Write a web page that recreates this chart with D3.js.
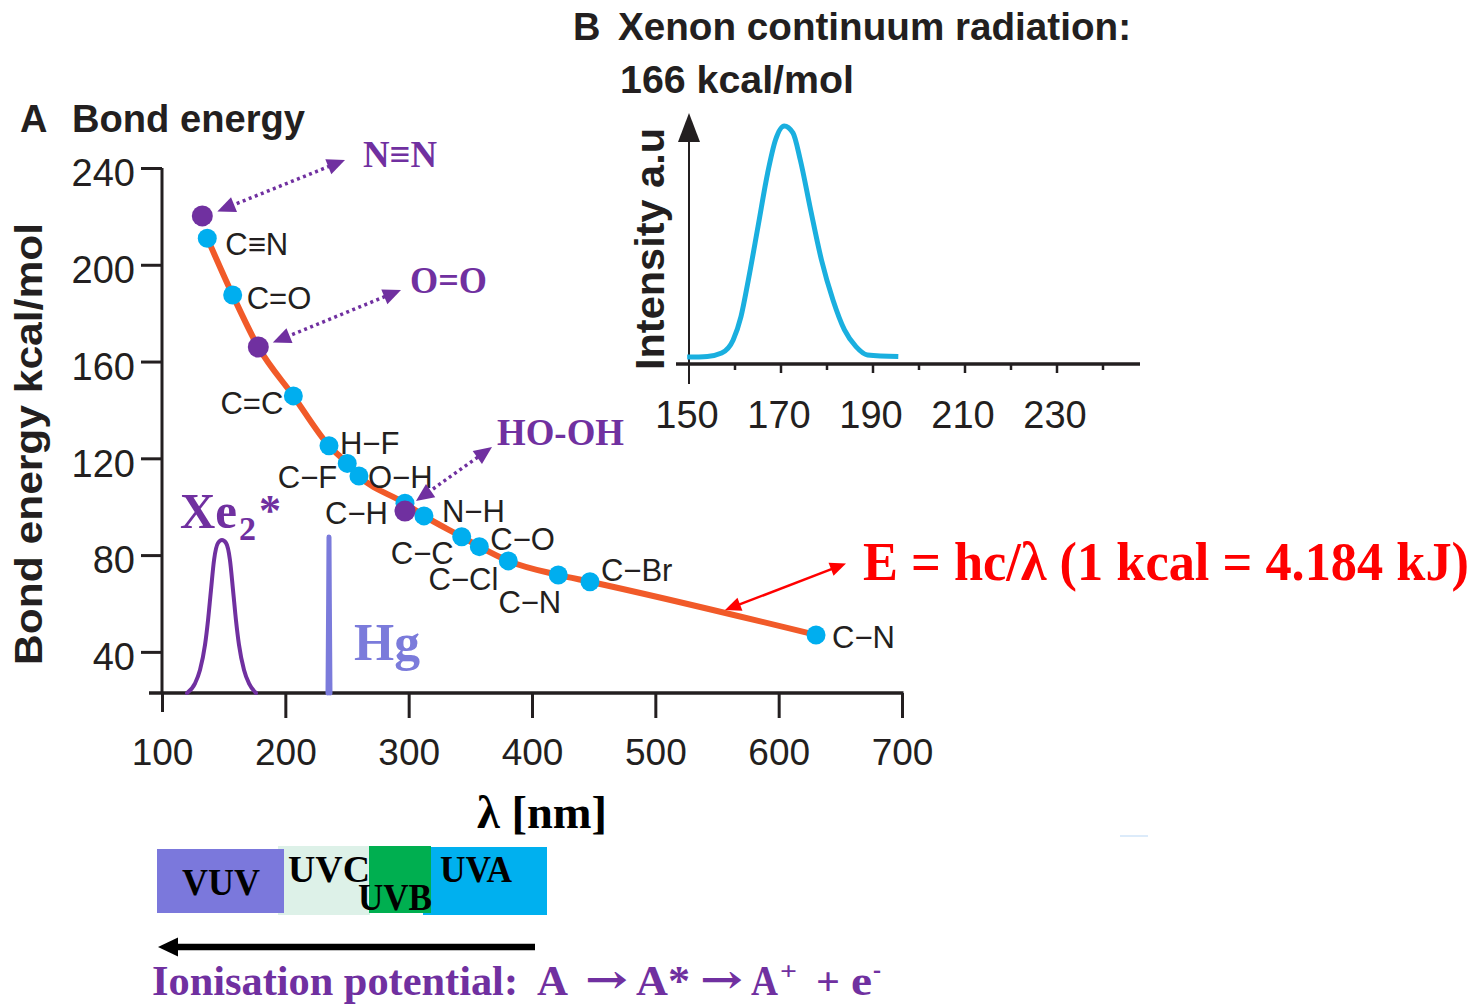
<!DOCTYPE html>
<html><head><meta charset="utf-8">
<script src="https://cdn.jsdelivr.net/npm/d3@7"></script>
<style>body{margin:0;background:#fff}svg{display:block}</style>
</head><body>
<svg id="c" width="1482" height="1004"></svg>
<script>
// ---------------- DATA ----------------
const bondLabels = ["C≡N","C=O","C=C","H−F","C−F","O−H","C−H","N−H","C−C","C−O","C−Cl","C−N","C−Br","C−N"];
const bondNm     = [136.7,157.3,206.5,235.4,250.2,259.7,297,312.4,343,357.3,380.8,421.3,447,630.3];
const bondE      = [211,187.5,145.8,125.2,117.9,112.7,101.4,96.2,87.6,83.5,77.6,71.8,69,47];

const moleculeLabels = ["N≡N","O=O","HO-OH"];
const moleculeNm     = [132.7,178.1,297];
const moleculeE      = [220.2,166,98.2];

// orange E = hc/λ line as drawn through the marks
const curveNm = [136.7,157.3,178.1,206.5,235.4,250.2,259.7,297,312.4,343,357.3,380.8,421.3,447,630.3];
const curveE  = [211,187.5,166,145.8,125.2,117.9,112.7,101.4,96.2,87.6,83.5,77.6,71.8,69,47];

// Xe2* excimer emission drawn in panel A
const xeLampNm = [120.3,126.8,130.8,134.9,137.3,139.7,142.2,145.4,148.6,151.9,155.1,157.6,160,162.4,166.5,170.5,176.2];
const xeLampE  = [23,27,32.5,43,53,65.5,78,85,86.2,85,78,65.5,53,43,32.5,27,23];
// Hg line
const hgLampNm = [234.6,235.1,235.4,235.7,236.2];
const hgLampE  = [23,60,87.5,60,23];

const xTicks = [100,200,300,400,500,600,700];
const yTicks = [40,80,120,160,200,240];

// Panel B: xenon continuum
const xenonNm        = [149.6,154,157.1,159.6,161.3,162.9,165,167.1,168.8,170.7,172.6,174.2,176.3,178.8,181.3,183.8,186.3,188.8,195.5];
const xenonIntensity = [2.9,3.2,4.6,10.1,19.9,35.3,57.7,80.3,94.1,100,97.1,85.7,66.1,43.7,26.9,14.3,7.3,3.8,3.1];
const insetTicks      = [150,170,190,210,230];
const insetMinorTicks = [160,180,200,220,240];

// UV bands (wavelength edges, nm)
const bandNames = ["VUV","UVC","UVB","UVA"];
const bandStart = [100,200,280,315];
const bandEnd   = [200,280,315,400];

// ---------------- LAYOUT / STYLE ----------------
const SANS = "'Liberation Sans', Arial, Helvetica, sans-serif";
const SERIF = "'Liberation Serif', 'Times New Roman', serif";
const INK = "#231F20";
const PURPLE = "#7030A0";
const BLUE = "#00AEEF";
const ORANGE = "#F15A29";
const HG = "#7B7BDB";

const svg = d3.select("#c");
svg.append("rect").attr("width",1482).attr("height",1004).attr("fill","#fff");

const x = d3.scaleLinear().domain([100,700]).range([162,902]);
const y = d3.scaleLinear().domain([23,240]).range([693,168]);

// panel titles
svg.append("text").attr("x",20).attr("y",132).attr("font-family",SANS).attr("font-weight","bold")
  .attr("font-size",38).attr("fill",INK).text("A");
svg.append("text").attr("x",72).attr("y",132).attr("font-family",SANS).attr("font-weight","bold")
  .attr("font-size",38).attr("fill",INK).attr("textLength",233).attr("lengthAdjust","spacingAndGlyphs").text("Bond energy");

svg.append("text").attr("x",573).attr("y",40).attr("font-family",SANS).attr("font-weight","bold")
  .attr("font-size",38).attr("fill",INK).text("B");
svg.append("text").attr("x",618).attr("y",40).attr("font-family",SANS).attr("font-weight","bold")
  .attr("font-size",38).attr("fill",INK).attr("textLength",513).attr("lengthAdjust","spacingAndGlyphs").text("Xenon continuum radiation:");
svg.append("text").attr("x",620).attr("y",93).attr("font-family",SANS).attr("font-weight","bold")
  .attr("font-size",38).attr("fill",INK).attr("textLength",234).attr("lengthAdjust","spacingAndGlyphs").text("166 kcal/mol");

// y title
svg.append("text").attr("transform","translate(42,444) rotate(-90)").attr("text-anchor","middle")
  .attr("font-family",SANS).attr("font-weight","bold").attr("font-size",39).attr("fill",INK)
  .attr("textLength",442).attr("lengthAdjust","spacingAndGlyphs").text("Bond energy kcal/mol");

// ---- axes panel A
const gy = svg.append("g").attr("transform","translate(162,0)")
  .call(d3.axisLeft(y).tickValues(yTicks).tickSize(21).tickFormat(d3.format("d")));
gy.select(".domain").remove();
gy.selectAll(".tick line").attr("stroke",INK).attr("stroke-width",3);
gy.selectAll(".tick text").attr("x",-27).attr("dy","0.36em").attr("y",4)
  .attr("font-family",SANS).attr("font-size",38).attr("fill",INK);

const gx = svg.append("g").attr("transform","translate(0,693)")
  .call(d3.axisBottom(x).tickValues(xTicks).tickSize(25).tickFormat(d3.format("d")));
gx.select(".domain").remove();
gx.selectAll(".tick line").attr("stroke",INK).attr("stroke-width",3).attr("y2",d=>d===100?19:25);
gx.selectAll(".tick text").attr("y",72).attr("dy",0)
  .attr("font-family",SANS).attr("font-size",37).attr("fill",INK);

// axis lines
svg.append("line").attr("x1",x(100)).attr("x2",x(100)).attr("y1",y(240)).attr("y2",693)
  .attr("stroke",INK).attr("stroke-width",3);
svg.append("line").attr("x1",149).attr("x2",x(700)+1.5).attr("y1",693).attr("y2",693)
  .attr("stroke",INK).attr("stroke-width",3.5);

// x title
svg.append("text").attr("x",542).attr("y",828).attr("text-anchor","middle").attr("font-family",SERIF)
  .attr("font-weight","bold").attr("font-size",46).attr("fill","#000").attr("textLength",130)
  .attr("lengthAdjust","spacingAndGlyphs").text("λ [nm]");

// lamp emission curves
const lampLine = d3.line().x((d,i)=>x(d[0])).y(d=>y(d[1])).curve(d3.curveMonotoneX);
svg.append("path").datum(xeLampNm.map((v,i)=>[v,xeLampE[i]])).attr("d",lampLine)
  .attr("fill","none").attr("stroke",PURPLE).attr("stroke-width",4).attr("stroke-linecap","round");
svg.append("path").datum(hgLampNm.map((v,i)=>[v,hgLampE[i]])).attr("d",d3.line().x(d=>x(d[0])).y(d=>y(d[1])))
  .attr("fill",HG).attr("stroke",HG).attr("stroke-width",5).attr("stroke-linejoin","round").attr("stroke-linecap","round");

// Xe2* and Hg labels
const xeT = svg.append("text").attr("x",180).attr("y",528).attr("font-family",SERIF).attr("font-weight","bold")
  .attr("fill",PURPLE).attr("font-size",50);
xeT.append("tspan").attr("textLength",57).attr("lengthAdjust","spacingAndGlyphs").text("Xe");
xeT.append("tspan").attr("font-size",34).attr("x",239).attr("y",540).text("2");
xeT.append("tspan").attr("font-size",44).attr("x",259).attr("y",525).text("*");
svg.append("text").attr("x",354).attr("y",660).attr("font-family",SERIF).attr("font-weight","bold")
  .attr("fill",HG).attr("font-size",52).attr("textLength",66).attr("lengthAdjust","spacingAndGlyphs").text("Hg");

// orange curve
const curveLine = d3.line().x(d=>x(d[0])).y(d=>y(d[1])).curve(d3.curveMonotoneX);
svg.append("path").datum(curveNm.map((v,i)=>[v,curveE[i]])).attr("d",curveLine)
  .attr("fill","none").attr("stroke",ORANGE).attr("stroke-width",6).attr("stroke-linecap","round");

// blue bond points
svg.append("g").selectAll("circle").data(bondNm.map((v,i)=>[v,bondE[i]])).join("circle")
  .attr("cx",d=>x(d[0])).attr("cy",d=>y(d[1])).attr("r",9.5).attr("fill",BLUE);

// purple molecule points
svg.append("g").selectAll("circle").data(moleculeNm.map((v,i)=>[v,moleculeE[i]])).join("circle")
  .attr("cx",d=>x(d[0])).attr("cy",d=>y(d[1])).attr("r",10.5).attr("fill",PURPLE);

// bond labels (layout offsets from each point)
const bondLabelLayout = [
  [18,6,"start"],[14,3,"start"],[-10,7,"end"],[11,-3,"start"],[-10,13,"end"],[9,1,"start"],
  [-17,10,"end"],[18,-5,"start"],[-8,16,"end"],[11,-8,"start"],[-10,18,"end"],[3,27,"end"],
  [11,-12,"start"],[16,2,"start"]];
svg.append("g").selectAll("text").data(bondLabels).join("text")
  .attr("x",(d,i)=>x(bondNm[i])+bondLabelLayout[i][0])
  .attr("y",(d,i)=>y(bondE[i])+bondLabelLayout[i][1])
  .attr("dy","0.36em").attr("text-anchor",(d,i)=>bondLabelLayout[i][2])
  .attr("font-family",SANS).attr("font-size",31).attr("fill",INK).text(d=>d);

// arrows helper
function head(g, tip, from, len, hw, color){
  const dx = tip[0]-from[0], dy = tip[1]-from[1], L = Math.hypot(dx,dy);
  const ux = dx/L, uy = dy/L, bx = tip[0]-ux*len, by = tip[1]-uy*len;
  g.append("polygon").attr("points",[[tip[0],tip[1]],[bx-uy*hw,by+ux*hw],[bx+uy*hw,by-ux*hw]].map(p=>p.join(",")).join(" "))
    .attr("fill",color);
}
function dblArrow(a, b, color, w, dash, len, hw){
  const g = svg.append("g");
  const dx=b[0]-a[0], dy=b[1]-a[1], L=Math.hypot(dx,dy), ux=dx/L, uy=dy/L;
  g.append("line").attr("x1",a[0]+ux*len*0.8).attr("y1",a[1]+uy*len*0.8)
    .attr("x2",b[0]-ux*len*0.8).attr("y2",b[1]-uy*len*0.8)
    .attr("stroke",color).attr("stroke-width",w).attr("stroke-dasharray",dash);
  head(g,a,b,len,hw,color); head(g,b,a,len,hw,color);
}
// molecule annotations: arrow from dot to label
const molArrowOffset = [[15,-4.5],[14.5,-4.5],[11,-10]];
const molArrowEnd = [[345,160],[401,290],[492,447]];
const molTextPos = [[363,167],[410,293],[497,445]];
const molTextLen = [74,77,127];
moleculeLabels.forEach((t,i)=>{
  const px = x(moleculeNm[i]), py = y(moleculeE[i]);
  dblArrow([px+molArrowOffset[i][0], py+molArrowOffset[i][1]], molArrowEnd[i], PURPLE, 3.5, "3,3.5", 18, 8);
  svg.append("text").attr("x",molTextPos[i][0]).attr("y",molTextPos[i][1]).attr("font-family",SERIF)
    .attr("font-weight","bold").attr("font-size",37).attr("fill",PURPLE)
    .attr("textLength",molTextLen[i]).attr("lengthAdjust","spacingAndGlyphs").text(t);
});

// red formula annotation
dblArrow([x(556.5), y(57.3)], [846,563.5], "#FF0000", 2.5, null, 16, 7);
svg.append("text").attr("x",863).attr("y",580).attr("font-family",SERIF).attr("font-weight","bold")
  .attr("font-size",54).attr("fill","#FF0000").attr("textLength",606).attr("lengthAdjust","spacingAndGlyphs")
  .text("E = hc/λ (1 kcal = 4.184 kJ)");

// ---- Panel B inset
const xi = d3.scaleLinear().domain([150,250]).range([689,1149]);
const yi = d3.scaleLinear().domain([0,100]).range([364,126]);
svg.append("line").attr("x1",676).attr("x2",1140).attr("y1",yi(0)).attr("y2",yi(0)).attr("stroke",INK).attr("stroke-width",3.5);
svg.append("line").attr("x1",xi(150)).attr("x2",xi(150)).attr("y1",384).attr("y2",138).attr("stroke",INK).attr("stroke-width",2);
svg.append("polygon").attr("points",`${xi(150)},113 ${xi(150)-11},142 ${xi(150)+11},142`).attr("fill",INK);
svg.append("g").selectAll("line").data(insetTicks.slice(1)).join("line")
  .attr("x1",d=>xi(d)).attr("x2",d=>xi(d)).attr("y1",yi(0)).attr("y2",yi(0)+9).attr("stroke",INK).attr("stroke-width",2.5);
svg.append("g").selectAll("line").data(insetMinorTicks).join("line")
  .attr("x1",d=>xi(d)).attr("x2",d=>xi(d)).attr("y1",yi(0)).attr("y2",yi(0)+6).attr("stroke",INK).attr("stroke-width",2.5);
svg.append("g").selectAll("text").data(insetTicks).join("text")
  .attr("x",d=>xi(d)-2).attr("y",428).attr("text-anchor","middle").attr("font-family",SANS)
  .attr("font-size",38).attr("fill",INK).text(d=>d);
svg.append("text").attr("transform","translate(664,249) rotate(-90)").attr("text-anchor","middle")
  .attr("font-family",SANS).attr("font-weight","bold").attr("font-size",40).attr("fill",INK)
  .attr("textLength",242).attr("lengthAdjust","spacingAndGlyphs").text("Intensity a.u");
svg.append("path").datum(xenonNm.map((v,i)=>[v,xenonIntensity[i]]))
  .attr("d",d3.line().x(d=>xi(d[0])).y(d=>yi(d[1])).curve(d3.curveMonotoneX))
  .attr("fill","none").attr("stroke","#1AAFDF").attr("stroke-width",5);

// ---- UV bands
const bx = d3.scaleLinear().domain([100,200,280,315,400]).range([157,284,370,431,547]);
const bandColors = ["#7B78DC","#DDF1E8","#00AF50","#00B0EF"];
const bandOrder = [1,0,3,2];
const bandPad = [[0,3,-1],[-6,0,1],[-1,0,-1],[-8,1,1]]; // [x-extension, top inset, bottom ext]
bandOrder.forEach(i=>{
  svg.append("rect").attr("x",bx(bandStart[i])+bandPad[i][0]).attr("y",846+bandPad[i][1])
    .attr("width",bx(bandEnd[i])-bx(bandStart[i])-bandPad[i][0]).attr("height",68-bandPad[i][1]+bandPad[i][2])
    .attr("fill",bandColors[i]);
});
const bandTextPos = [[182,895,78],[288,882,82],[358,910,74],[440,882,72]];
bandNames.forEach((t,i)=>{
  svg.append("text").attr("x",bandTextPos[i][0]).attr("y",bandTextPos[i][1]).attr("font-family",SERIF)
    .attr("font-weight","bold").attr("font-size",37).attr("fill","#000")
    .attr("textLength",bandTextPos[i][2]).attr("lengthAdjust","spacingAndGlyphs").text(t);
});
svg.append("line").attr("x1",1120).attr("x2",1148).attr("y1",836).attr("y2",836).attr("stroke","#DCEBFA").attr("stroke-width",2);

// ionisation arrow
svg.append("line").attr("x1",535).attr("x2",175).attr("y1",947).attr("y2",947).attr("stroke","#000").attr("stroke-width",6.5);
svg.append("polygon").attr("points","158,947 178,937.5 178,956.5").attr("fill","#000");

// ionisation text
const ion = (t,xx,yy,fs,len,fam)=>{ const e=svg.append("text").attr("x",xx).attr("y",yy).attr("font-family",fam||SERIF)
  .attr("font-weight","bold").attr("font-size",fs).attr("fill",PURPLE).text(t);
  if(len) e.attr("textLength",len).attr("lengthAdjust","spacingAndGlyphs"); };
ion("Ionisation potential:",152,995,42,366);
ion("A",537,995,42,31);
ion("→",585,993,40,43,"'DejaVu Serif', 'DejaVu Sans', serif");
ion("A*",636,995,42,54);
ion("→",700,993,40,43,"'DejaVu Serif', 'DejaVu Sans', serif");
ion("A",751,995,42,27);
ion("+",780,980,26,17);
ion("+",816,995,40,24);
ion("e",851,995,42,21);
ion("-",873,978,28,8);
</script>
</body></html>
